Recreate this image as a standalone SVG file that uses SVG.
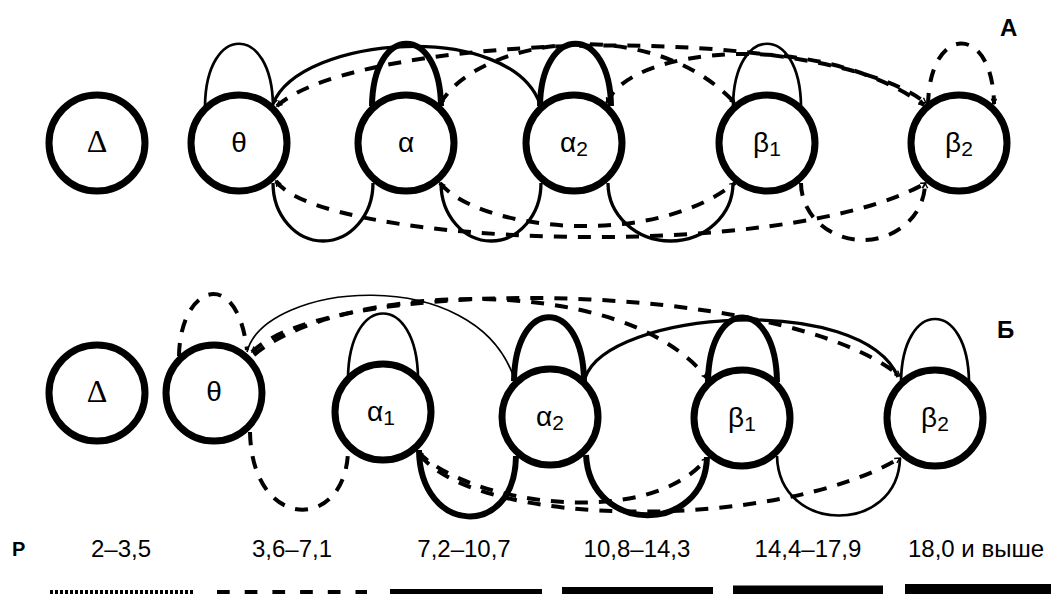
<svg xmlns="http://www.w3.org/2000/svg" width="1051" height="594" viewBox="0 0 1051 594">
  <style>
    .node circle { fill: #fff; stroke: #000; stroke-width: 7; }
    .lbl { font-family: "Liberation Sans", Arial, sans-serif; font-size: 28px; text-anchor: middle; fill: #000; }
    .sub { font-size: 21px; }
    .delta { font-family: "Liberation Serif", "Times New Roman", serif; font-size: 32px; text-anchor: middle; fill: #000; }
    .title { font-family: "Liberation Sans", Arial, sans-serif; font-weight: bold; font-size: 24px; fill: #000; }
    .legend text { font-family: "Liberation Sans", Arial, sans-serif; font-size: 24px; text-anchor: middle; fill: #000; }
    .c { fill: none; stroke: #000; }
    .w1 { stroke-width: 1.7; }
    .w2 { stroke-width: 2.7; }
    .w3 { stroke-width: 3.3; }
    .w4 { stroke-width: 6; }
    .d { stroke-width: 4; stroke-dasharray: 13 11; }
  </style>
  <defs>
    <marker id="ah" viewBox="0 0 8 8" refX="7" refY="4" markerWidth="7" markerHeight="7" markerUnits="userSpaceOnUse" orient="auto-start-reverse">
      <path d="M1,1 L7,4 L1,7" fill="none" stroke="#000" stroke-width="1.6"/>
    </marker>
  </defs>
  <rect width="1051" height="594" fill="#fff"/>

  <!-- panel A: connectors -->
  <g id="connectors-a">
    <!-- self loops -->
    <path class="c w2" d="M205,106 C206,23 272,23 273,106"/>
    <path class="c w4" d="M372,106 C373,23 440,23 441,106"/>
    <path class="c w4" d="M540,106 C541,23 610,23 611,106"/>
    <path class="c w2" d="M733,106 C734,23 800,23 801,106"/>
    <path class="c d" d="M928,106 C929,23 993,23 994,104" marker-end="url(#ah)"/>
    <!-- upper arcs -->
    <path class="c w3" d="M273,104 C300,35 510,20 540,104" marker-start="url(#ah)"/>
    <path class="c d" d="M277,106 C360,32 820,20 926,103" marker-start="url(#ah)" marker-end="url(#ah)"/>
    <path class="c d" d="M440,104 C478,38 650,12 735,103" marker-start="url(#ah)" marker-end="url(#ah)"/>
    <path class="c d" d="M607,103 C630,45 820,30 924,105" marker-start="url(#ah)" marker-end="url(#ah)"/>
    <!-- lower arcs -->
    <path class="c w3" d="M273,183 A50,58 0 0 0 373,183"/>
    <path class="c w3" d="M441,183 A50,58 0 0 0 541,183"/>
    <path class="c w3" d="M608,183 A62.5,58 0 0 0 733,183"/>
    <path class="c d" d="M801,183 A62,57 0 0 0 925,183" marker-end="url(#ah)"/>
    <path class="c d" d="M276,181 C320,245 780,265 926,183" marker-start="url(#ah)" marker-end="url(#ah)"/>
    <path class="c d" d="M440,183 C478,230 650,250 735,183" marker-start="url(#ah)" marker-end="url(#ah)"/>
  </g>

  <!-- panel Б: connectors -->
  <g id="connectors-b">
    <!-- self loops -->
    <path class="c d" d="M179,356 C180,285 237,265 247,350"/>
    <path class="c w2" d="M348,378 C349,292 417,292 418,378"/>
    <path class="c w4" d="M514,381 C515,296 583,296 584,381"/>
    <path class="c w4" d="M708,382 C709,296 776,296 777,382"/>
    <path class="c w2" d="M901,382 C902,298 968,298 969,382"/>
    <!-- upper arcs -->
    <path class="c w1" d="M247,352 C265,282 475,262 514,378"/>
    <path class="c d" d="M252,352 C330,275 780,278 900,376" marker-start="url(#ah)" marker-end="url(#ah)"/>
    <path class="c d" d="M254,355 C335,285 620,268 707,378" marker-end="url(#ah)"/>
    <path class="c w3" d="M585,378 C608,310 862,292 898,377"/>
    <!-- lower arcs -->
    <path class="c d" d="M250,432 C252,532 345,532 348,452"/>
    <path class="c w4" d="M419,450 C420,535 515,540 516,456"/>
    <path class="c d" d="M418,452 C470,505 650,530 707,458" marker-start="url(#ah)" marker-end="url(#ah)"/>
    <path class="c d" d="M420,455 C480,530 780,530 900,458" marker-end="url(#ah)"/>
    <path class="c w4" d="M586,455 C590,535 705,535 707,457"/>
    <path class="c w2" d="M777,456 C779,535 898,535 900,458"/>
  </g>

  <!-- panel A: nodes -->
  <g id="a-delta" class="node"><circle cx="97" cy="143" r="48"/><text class="delta" x="97" y="152">Δ</text></g>
  <g id="a-theta" class="node"><circle cx="239" cy="143" r="48"/><text class="lbl" x="239" y="152">θ</text></g>
  <g id="a-alpha" class="node"><circle cx="406" cy="143" r="48"/><text class="lbl" x="406" y="152">α</text></g>
  <g id="a-alpha2" class="node"><circle cx="574" cy="143" r="48"/><text class="lbl" x="574" y="152">α<tspan class="sub" dy="4">2</tspan></text></g>
  <g id="a-beta1" class="node"><circle cx="767" cy="143" r="48"/><text class="lbl" x="767" y="152">β<tspan class="sub" dy="4">1</tspan></text></g>
  <g id="a-beta2" class="node"><circle cx="959" cy="143" r="48"/><text class="lbl" x="959" y="152">β<tspan class="sub" dy="4">2</tspan></text></g>
  <text class="title" x="1000" y="35.5">А</text>

  <!-- panel Б: nodes -->
  <g id="b-delta" class="node"><circle cx="97" cy="393" r="48"/><text class="delta" x="97" y="402">Δ</text></g>
  <g id="b-theta" class="node"><circle cx="214" cy="393" r="48"/><text class="lbl" x="214" y="401">θ</text></g>
  <g id="b-alpha1" class="node"><circle cx="383" cy="412" r="48"/><text class="lbl" x="381" y="421">α<tspan class="sub" dy="4">1</tspan></text></g>
  <g id="b-alpha2" class="node"><circle cx="550" cy="417" r="48"/><text class="lbl" x="550" y="426">α<tspan class="sub" dy="4">2</tspan></text></g>
  <g id="b-beta1" class="node"><circle cx="742" cy="418" r="48"/><text class="lbl" x="742" y="427">β<tspan class="sub" dy="4">1</tspan></text></g>
  <g id="b-beta2" class="node"><circle cx="935" cy="418" r="48"/><text class="lbl" x="935" y="427">β<tspan class="sub" dy="4">2</tspan></text></g>
  <text class="title" x="997" y="337.5">Б</text>

  <!-- legend: line styles by P range -->
  <g id="legend" class="legend">
    <text x="12" y="556" style="font-weight:bold;font-size:20px;text-anchor:start">Р</text>
    <text x="121" y="557">2–3,5</text>
    <text x="292" y="557">3,6–7,1</text>
    <text x="464" y="557">7,2–10,7</text>
    <text x="637" y="557">10,8–14,3</text>
    <text x="808" y="557">14,4–17,9</text>
    <text x="976" y="557">18,0 и выше</text>
    <line x1="50" y1="594" x2="193" y2="594" stroke="#000" stroke-width="8" stroke-dasharray="3 2"/>
    <line x1="217" y1="594" x2="367" y2="594" stroke="#000" stroke-width="8" stroke-dasharray="12.7 15"/>
    <rect x="390" y="589" width="152" height="5"/>
    <rect x="562" y="587" width="151" height="7"/>
    <rect x="733" y="585.5" width="150" height="8.5"/>
    <rect x="905" y="584" width="146" height="10"/>
  </g>
</svg>
